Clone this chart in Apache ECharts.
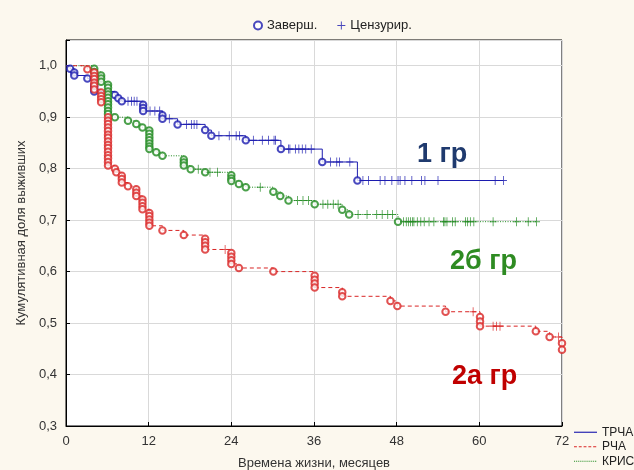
<!DOCTYPE html>
<html>
<head>
<meta charset="utf-8">
<script src="https://cdn.jsdelivr.net/npm/echarts@6/dist/echarts.min.js"></script>
<style>
  html, body { margin: 0; padding: 0; background: #fcf8ee; }
  #chart { width: 634px; height: 470px; }
</style>
</head>
<body>
<div id="chart"></div>
<script>
// Ось X - месяцы, ось Y - кумулятивная доля выживших
const xTicks = [0, 12, 24, 36, 48, 60, 72]
const yTicks = [0.3, 0.4, 0.5, 0.6, 0.7, 0.8, 0.9, 1.0]

const groupNames = ['ТРЧА', 'РЧА', 'КРИС']
const markNames = ['Заверш.', 'Цензурир.']

// ТРЧА (1 гр): завершённые наблюдения [месяц, доля]
const trchaDone = [
  [0.6, 0.994], [1.2, 0.987], [1.2, 0.981], [3.1, 0.975], [4.1, 0.962], [4.1, 0.956],
  [4.1, 0.95], [7.1, 0.943], [7.6, 0.937], [8.1, 0.931], [11.2, 0.924], [11.2, 0.918],
  [11.2, 0.912], [14.0, 0.904], [14.0, 0.897], [16.2, 0.886], [20.2, 0.875], [21.1, 0.864],
  [26.1, 0.855], [31.2, 0.838], [37.2, 0.813], [42.3, 0.777]
]
// ТРЧА: цензурированные
const trchaCens = [
  [9.0, 0.931], [9.5, 0.931], [9.9, 0.931], [10.3, 0.931],
  [12.2, 0.912], [12.9, 0.912], [13.6, 0.912], [15.0, 0.897],
  [17.5, 0.886], [18.2, 0.886], [18.6, 0.886], [19.0, 0.886],
  [22.2, 0.864], [23.7, 0.864], [24.7, 0.864], [25.2, 0.864],
  [27.2, 0.855], [28.5, 0.855], [29.4, 0.855], [30.2, 0.855], [30.4, 0.855],
  [32.3, 0.838], [32.5, 0.838], [33.3, 0.838], [33.8, 0.838], [34.3, 0.838], [34.8, 0.838], [35.6, 0.838],
  [38.4, 0.813], [39.3, 0.813], [39.7, 0.813], [41.2, 0.813],
  [43.1, 0.777], [43.9, 0.777], [45.6, 0.777], [46.3, 0.777], [47.3, 0.777], [48.2, 0.777],
  [48.5, 0.777], [49.2, 0.777], [50.2, 0.777], [51.6, 0.777], [52.1, 0.777], [54.0, 0.777],
  [62.3, 0.777], [63.5, 0.777]
]

// РЧА (2а гр)
const rchaDone = [
  [3.1, 0.993],
  [4.1, 0.987], [4.1, 0.98], [4.1, 0.974], [4.1, 0.967], [4.1, 0.961], [4.1, 0.954],
  [5.1, 0.948], [5.1, 0.941], [5.1, 0.935], [5.1, 0.929],
  [6.1, 0.9], [6.1, 0.893], [6.1, 0.887], [6.1, 0.88], [6.1, 0.873], [6.1, 0.866], [6.1, 0.86],
  [6.1, 0.853], [6.1, 0.846], [6.1, 0.84], [6.1, 0.833], [6.1, 0.826], [6.1, 0.82], [6.1, 0.813], [6.1, 0.806],
  [7.1, 0.8], [7.3, 0.793], [8.1, 0.786], [8.1, 0.78], [8.1, 0.773], [9.0, 0.766],
  [10.2, 0.76], [10.2, 0.753], [10.2, 0.747],
  [11.1, 0.74], [11.1, 0.734], [11.1, 0.727], [11.1, 0.721],
  [12.1, 0.714], [12.1, 0.708], [12.1, 0.701], [12.1, 0.695], [12.1, 0.689],
  [14.0, 0.68], [17.1, 0.671],
  [20.2, 0.664], [20.2, 0.657], [20.2, 0.65], [20.2, 0.643],
  [24.0, 0.636], [24.0, 0.629], [24.0, 0.622], [24.0, 0.615],
  [25.1, 0.607], [30.1, 0.6],
  [36.1, 0.592], [36.1, 0.584], [36.1, 0.577], [36.1, 0.569],
  [40.1, 0.56], [40.1, 0.552], [47.1, 0.543], [48.1, 0.533], [55.1, 0.522],
  [60.1, 0.512], [60.1, 0.503], [60.1, 0.494],
  [68.2, 0.484], [70.2, 0.473], [72.0, 0.461], [72.0, 0.448]
]
const rchaCens = [
  [23.1, 0.643], [59.1, 0.522], [62.0, 0.494], [62.5, 0.494], [63.0, 0.494], [71.5, 0.473]
]

// КРИС (2б гр)
const krisDone = [
  [4.1, 0.994], [4.1, 0.988], [5.1, 0.981], [5.1, 0.975], [5.1, 0.969],
  [6.1, 0.963], [6.1, 0.957], [6.1, 0.95], [6.1, 0.944], [6.1, 0.938], [6.1, 0.931],
  [6.1, 0.925], [6.1, 0.919], [6.1, 0.912], [6.1, 0.906],
  [7.1, 0.9], [9.0, 0.893], [10.2, 0.887], [11.1, 0.88],
  [12.1, 0.874], [12.1, 0.868], [12.1, 0.861], [12.1, 0.855], [12.1, 0.849], [12.1, 0.843], [12.1, 0.838],
  [13.1, 0.832], [14.0, 0.825],
  [17.1, 0.818], [17.1, 0.812], [17.1, 0.806], [18.1, 0.799], [20.2, 0.793],
  [24.0, 0.787], [24.0, 0.781], [24.0, 0.776], [25.1, 0.77], [26.1, 0.764],
  [30.1, 0.755], [31.1, 0.747], [32.3, 0.738], [36.1, 0.731],
  [40.1, 0.72], [41.1, 0.711], [48.2, 0.697]
]
const krisCens = [
  [19.2, 0.799], [20.9, 0.793], [22.0, 0.793], [28.2, 0.764],
  [33.6, 0.738], [34.4, 0.738], [35.2, 0.738],
  [37.3, 0.731], [38.0, 0.731], [38.8, 0.731], [39.5, 0.731],
  [42.4, 0.711], [43.7, 0.711], [45.1, 0.711], [45.9, 0.711], [46.7, 0.711], [47.4, 0.711],
  [49.0, 0.697], [49.4, 0.697], [49.7, 0.697], [50.0, 0.697], [50.3, 0.697], [50.5, 0.697],
  [51.0, 0.697], [51.5, 0.697], [52.0, 0.697], [52.7, 0.697], [53.4, 0.697], [54.8, 0.697],
  [55.0, 0.697], [55.3, 0.697], [56.1, 0.697], [56.5, 0.697], [58.0, 0.697], [58.3, 0.697],
  [58.7, 0.697], [59.2, 0.697], [62.0, 0.697], [65.4, 0.697], [67.1, 0.697], [68.3, 0.697]
]

const BLUE = '#1c1caf'
const RED = '#d92525'
const GREEN = '#1f8a1f'
const FONT = 'Liberation Sans'
const PLUS = 'path://M4.4,0H5.6V10H4.4Z M0,4.4H10V5.6H0Z'

// значки линий для нижней легенды (сплошная / штрих / точки)
const ICON_SOLID = 'path://M0,0H24V1.2H0Z'
const ICON_DASH = 'path://M0,0H3V1.2H0Z M5,0H8V1.2H5Z M10,0H13V1.2H10Z M15,0H18V1.2H15Z M20,0H23V1.2H20Z M23.8,0H24V1.2H23.8Z'
const ICON_DOT = 'path://M0,0H1V1.2H0Z M2,0H3V1.2H2Z M4,0H5V1.2H4Z M6,0H7V1.2H6Z M8,0H9V1.2H8Z M10,0H11V1.2H10Z M12,0H13V1.2H12Z M14,0H15V1.2H14Z M16,0H17V1.2H16Z M18,0H19V1.2H18Z M20,0H21V1.2H20Z M22,0H23V1.2H22Z M23.8,0H24V1.2H23.8Z'

// ступенчатая кривая: старт с 1.0, далее события, до последнего цензурированного
const kmLine = (done, cens) => {
  const pts = [[0, 1], ...done]
  const lastC = cens[cens.length - 1]
  const lastD = done[done.length - 1]
  if (lastC && lastC[0] > lastD[0]) pts.push([lastC[0], lastD[1]])
  return pts
}

const lineSeries = (name, data, color, type) => ({
  name,
  type: 'line',
  data,
  step: 'end',
  symbol: 'none',
  showSymbol: false,
  lineStyle: { color, width: 1, type },
  itemStyle: { color },
  silent: true,
  z: 2,
})

const doneSeries = (name, data, color) => ({
  name,
  type: 'scatter',
  data,
  symbol: 'emptyCircle',
  symbolSize: 6.5,
  itemStyle: { color, borderColor: color, borderWidth: 1.2 },
  silent: true,
  z: 3,
})

const censSeries = (name, data, color) => ({
  name,
  type: 'scatter',
  data,
  symbol: PLUS,
  symbolSize: [7, 9],
  itemStyle: { color },
  silent: true,
  z: 3,
})

const chart = echarts.init(document.getElementById('chart'))

const option = {
  animation: false,
  backgroundColor: '#fcf8ee',
  textStyle: { fontFamily: FONT },
  grid: {
    left: 66,
    right: 72,
    top: 40,
    bottom: 44,
    outerBoundsMode: 'none',
    show: true,
    backgroundColor: '#ffffff',
    borderColor: '#000000',
    borderWidth: 1,
  },
  legend: [
    {
      data: markNames,
      left: 248,
      top: 14,
      itemWidth: 8,
      itemHeight: 8,
      itemGap: 20,
      textStyle: { fontSize: 13, color: '#222', fontFamily: FONT },
    },
    {
      data: [
        { name: groupNames[0], icon: ICON_SOLID },
        { name: groupNames[1], icon: ICON_DASH },
        { name: groupNames[2], icon: ICON_DOT },
      ],
      orient: 'vertical',
      left: 574,
      top: 425,
      padding: 0,
      itemWidth: 23,
      itemHeight: 1.2,
      itemGap: 0,
      textStyle: { fontSize: 12, color: '#222', fontFamily: FONT, lineHeight: 14.5 },
    },
  ],
  xAxis: {
    type: 'value',
    min: xTicks[0],
    max: xTicks[xTicks.length - 1],
    interval: 12,
    name: 'Времена жизни, месяцев',
    nameLocation: 'middle',
    nameGap: 31,
    nameTextStyle: { fontSize: 13, color: '#333', fontFamily: FONT },
    axisLine: { lineStyle: { color: '#000' } },
    axisTick: { inside: true, length: 4, lineStyle: { color: '#000' } },
    axisLabel: { fontSize: 13, color: '#333', margin: 9 },
    splitLine: { lineStyle: { color: '#d9d9d9' } },
  },
  yAxis: {
    type: 'value',
    min: yTicks[0],
    max: 1.05,
    interval: 0.1,
    name: 'Кумулятивная доля выживших',
    nameLocation: 'middle',
    nameGap: 36,
    nameTextStyle: { fontSize: 13, color: '#333', fontFamily: FONT },
    axisLine: { lineStyle: { color: '#000' } },
    axisTick: { inside: true, length: 4, lineStyle: { color: '#000' } },
    axisLabel: {
      fontSize: 13,
      color: '#333',
      margin: 9,
      formatter: (v) => (v > 1.01 ? '' : v.toFixed(1).replace('.', ',')),
    },
    splitLine: { lineStyle: { color: '#d9d9d9' } },
  },
  series: [
    lineSeries('КРИС', kmLine(krisDone, krisCens), GREEN, [1, 1.5]),
    lineSeries('РЧА', kmLine(rchaDone, rchaCens), RED, [4, 3]),
    lineSeries('ТРЧА', kmLine(trchaDone, trchaCens), BLUE, 'solid'),
    doneSeries('Заверш.', trchaDone, BLUE),
    censSeries('Цензурир.', trchaCens, BLUE),
    doneSeries('КРИС з', krisDone, GREEN),
    censSeries('КРИС ц', krisCens, GREEN),
    doneSeries('РЧА з', rchaDone, RED),
    censSeries('РЧА ц', rchaCens, RED),
  ],
  // подписи групп поверх сетки
  graphic: [
    {
      type: 'text', left: 417, top: 141, z: 100,
      style: { text: '1 гр', fill: '#1f3a6e', font: 'bold 27px "Liberation Sans"' },
    },
    {
      type: 'text', left: 450, top: 248, z: 100,
      style: { text: '2б гр', fill: '#2e8b22', font: 'bold 27px "Liberation Sans"' },
    },
    {
      type: 'text', left: 452, top: 363, z: 100,
      style: { text: '2а гр', fill: '#c00000', font: 'bold 27px "Liberation Sans"' },
    },
  ],
}

chart.setOption(option)
</script>
</body>
</html>
